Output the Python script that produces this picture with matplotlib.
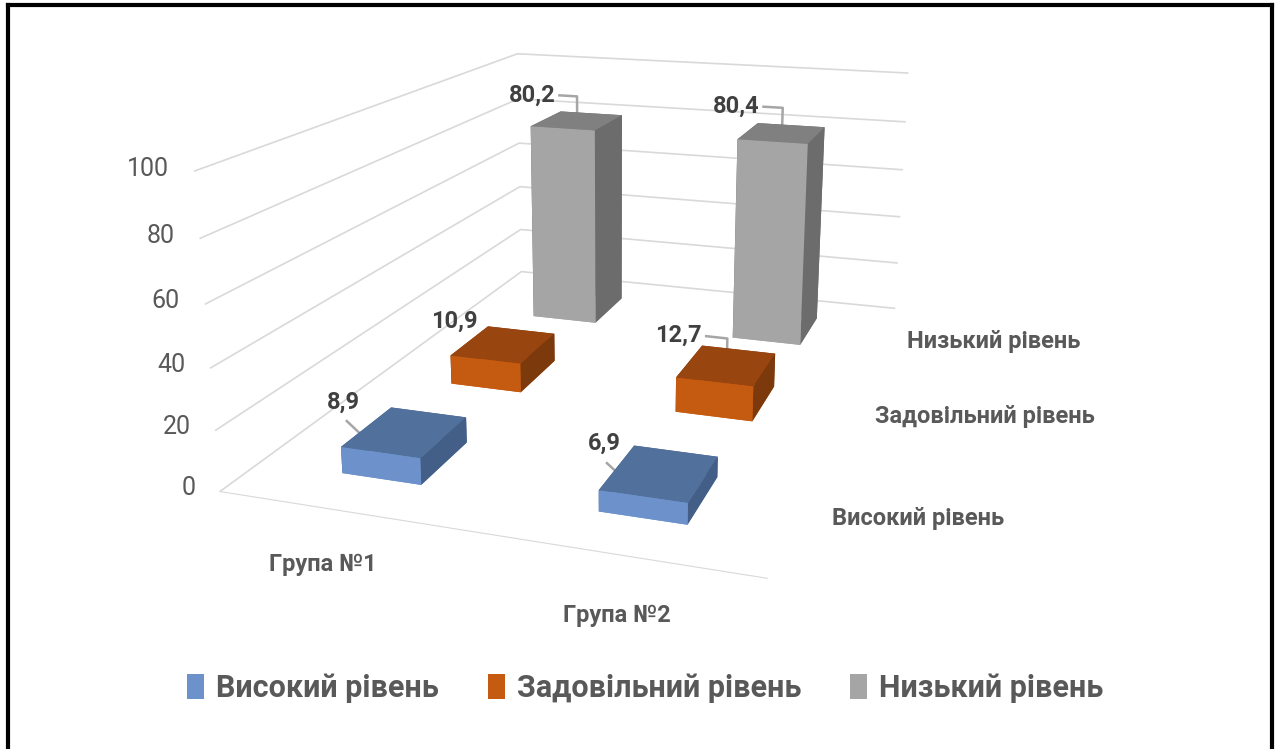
import numpy as np
import matplotlib.pyplot as plt
from matplotlib.patches import Patch
from matplotlib.lines import Line2D

plt.rcParams['font.family'] = ['Roboto', 'DejaVu Sans']

groups = ['Група №1', 'Група №2']
series = ['Високий рівень', 'Задовільний рівень', 'Низький рівень']
values = [
    [8.9, 6.9],    # Високий
    [10.9, 12.7],  # Задовільний
    [80.2, 80.4],  # Низький
]
zticks = [0, 20, 40, 60, 80, 100]

# front, top, side colours for each series
face_cols = [
    ('#6c91cb', '#52709c', '#445f87'),
    ('#c55a11', '#984510', '#7c3a0c'),
    ('#a5a5a5', '#808080', '#6c6c6c'),
]
legend_cols = ['#6c91cb', '#c55a11', '#a5a5a5']
txt_col = '#595959'
lab_col = '#404040'
lead_col = '#a6a6a6'

fig = plt.figure(figsize=(12.78, 7.49), dpi=100)
ax = fig.add_axes([-0.003, 0.20, 0.95, 0.9], projection='3d')
ax.set_proj_type('persp', focal_length=0.4)
ax.view_init(elev=16, azim=-71.5)
ax.set_box_aspect((0.97, 1.4, 0.57), zoom=1.28)
ax.set_xlim(0, 2)
ax.set_ylim(0, 3)
ax.set_zlim(0, 100)

# bars, one call so the faces sort together
dx, dy = 0.32, 0.42
xs, ys, hs, cols = [], [], [], []
for si, vals in enumerate(values):
    front, top, side = face_cols[si]
    for gi, v in enumerate(vals):
        xs.append(gi + 0.5 - dx / 2)
        ys.append(si + 0.5 - dy / 2)
        hs.append(v)
        # -z, +z, -y, +y, -x, +x
        cols += [front, top, front, side, side, side]
n = len(xs)
ax.bar3d(xs, ys, np.zeros(n), dx, dy, hs, color=cols, shade=False,
         edgecolor='none', linewidth=0)

# walls / grid
for axis in (ax.xaxis, ax.yaxis, ax.zaxis):
    axis.set_pane_color((1, 1, 1, 0))
    axis.pane.set_edgecolor('none')
    axis._axinfo['tick']['inward_factor'] = 0
    axis._axinfo['tick']['outward_factor'] = 0
ax.xaxis.line.set_color('#d9d9d9')
ax.yaxis.line.set_color((1, 1, 1, 0))
ax.zaxis.line.set_color((1, 1, 1, 0))
ax.grid(True)
ax.zaxis._axinfo['grid'].update(color='#d9d9d9', linewidth=1.2)
ax.set_xticks([])
ax.set_yticks([])
ax.set_zticks(zticks)
ax.set_zticklabels([])
for t in zticks:
    ax.text(-0.1, 0, t, str(t), ha='right', va='center', fontsize=18,
            color=txt_col)

# category and series labels
for gi, g in enumerate(groups):
    ax.text(gi + 0.62, -0.38, 0, g, ha='center', va='center', fontsize=17,
            fontweight='bold', color=txt_col)
for si, s in enumerate(series):
    ax.text(2.12, si + 0.5, 0, s, ha='left', va='center', fontsize=17,
            fontweight='bold', color=txt_col)

# data labels with leader lines
for si, vals in enumerate(values):
    for gi, v in enumerate(vals):
        cx, cy = gi + 0.5, si + 0.5
        txt = f'{v:.1f}'.replace('.', ',')
        if si == 0:
            # slanted leader to the front edge of the top
            ax.plot([cx - 0.13, cx], [cy - dy / 2, cy - dy / 2], [v + 9, v],
                    color=lead_col, lw=1.8)
            ax.text(cx - 0.14, cy - dy / 2, v + 15, txt, ha='center', va='center',
                    fontsize=17, fontweight='bold', color=lab_col)
        elif si == 1 and gi == 0:
            ax.text(cx - 0.12, cy, v + 8, txt, ha='right', va='center',
                    fontsize=17, fontweight='bold', color=lab_col)
        else:
            lx, lz = cx - 0.09, v + 10
            ax.plot([lx, cx, cx], [cy, cy, cy], [lz, lz, v], color=lead_col, lw=1.8)
            ax.text(lx - 0.02, cy, lz, txt, ha='right', va='center',
                    fontsize=17, fontweight='bold', color=lab_col)

handles = [Patch(facecolor=c, edgecolor='none') for c in legend_cols]
fig.legend(handles, series, loc='lower center', bbox_to_anchor=(0.505, 0.025),
           ncol=3, frameon=False, prop={'size': 22, 'weight': 'bold'},
           handlelength=0.55, handleheight=0.9,
           columnspacing=1.6, handletextpad=0.4, labelcolor=txt_col)

# outer frame
for xx, yy in (([0.006, 0.006], [0, 0.993]), ([0.006, 0.995], [0.993, 0.993]),
               ([0.995, 0.995], [0, 0.993])):
    fig.add_artist(Line2D(xx, yy, color='black', lw=3, transform=fig.transFigure))

fig.savefig('out.png', dpi=100)
